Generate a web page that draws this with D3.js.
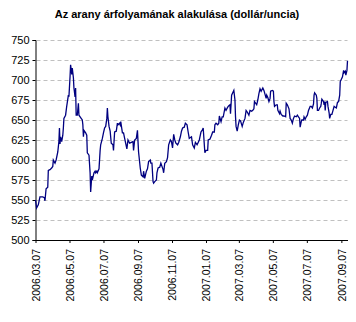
<!DOCTYPE html>
<html>
<head>
<meta charset="utf-8">
<script src="https://cdn.jsdelivr.net/npm/d3@7"></script>
<style>
  html, body { margin: 0; padding: 0; background: #fff; }
  svg { display: block; font-family: "Liberation Sans", Arial, sans-serif; }
</style>
</head>
<body>
<svg id="chart" width="356" height="322"></svg>
<script>
// Gold price, USD per troy ounce
const chartTitle = "Az arany árfolyamának alakulása (dollár/uncia)";

const dates = [
  "2006-03-07","2006-03-09","2006-03-12","2006-03-15","2006-03-20","2006-03-23","2006-03-24","2006-03-26","2006-03-29","2006-03-30",
  "2006-04-02","2006-04-05","2006-04-07","2006-04-08","2006-04-11","2006-04-13","2006-04-16","2006-04-18","2006-04-19","2006-04-20",
  "2006-04-21","2006-04-23","2006-04-25","2006-04-26","2006-04-27","2006-04-30",
  "2006-05-02","2006-05-05","2006-05-06","2006-05-08","2006-05-09","2006-05-11","2006-05-12","2006-05-14","2006-05-15","2006-05-17",
  "2006-05-18","2006-05-19","2006-05-21","2006-05-23","2006-05-24","2006-05-27","2006-05-30","2006-05-31",
  "2006-06-01","2006-06-02","2006-06-05","2006-06-07","2006-06-08","2006-06-11","2006-06-13","2006-06-14","2006-06-16","2006-06-17",
  "2006-06-19","2006-06-20","2006-06-22","2006-06-23","2006-06-25","2006-06-26","2006-06-29",
  "2006-07-01","2006-07-02","2006-07-05","2006-07-07","2006-07-09","2006-07-11","2006-07-13","2006-07-14","2006-07-15","2006-07-17",
  "2006-07-19","2006-07-21","2006-07-24","2006-07-25","2006-07-27","2006-07-30",
  "2006-08-01","2006-08-02","2006-08-05","2006-08-06","2006-08-07","2006-08-10","2006-08-12","2006-08-14","2006-08-18","2006-08-20",
  "2006-08-23","2006-08-26","2006-08-29","2006-08-30",
  "2006-09-01","2006-09-04","2006-09-06","2006-09-07","2006-09-08","2006-09-11","2006-09-13","2006-09-16","2006-09-17","2006-09-19",
  "2006-09-22","2006-09-24","2006-09-26","2006-09-29","2006-09-30",
  "2006-10-02","2006-10-04","2006-10-05","2006-10-07","2006-10-10","2006-10-11","2006-10-13","2006-10-16","2006-10-18","2006-10-20",
  "2006-10-22","2006-10-23","2006-10-25","2006-10-28","2006-10-30",
  "2006-11-01","2006-11-04","2006-11-06","2006-11-08","2006-11-10","2006-11-12","2006-11-14","2006-11-17","2006-11-19","2006-11-22",
  "2006-11-24","2006-11-26","2006-11-29",
  "2006-12-01","2006-12-04","2006-12-06","2006-12-08","2006-12-12","2006-12-14","2006-12-17","2006-12-19","2006-12-22","2006-12-24",
  "2006-12-26","2006-12-29","2006-12-31",
  "2007-01-02","2007-01-04","2007-01-05","2007-01-07","2007-01-10","2007-01-11","2007-01-14","2007-01-17","2007-01-19","2007-01-22",
  "2007-01-23","2007-01-25","2007-01-28","2007-01-30","2007-01-31",
  "2007-02-03","2007-02-05","2007-02-07","2007-02-10","2007-02-12","2007-02-15","2007-02-17","2007-02-19","2007-02-20","2007-02-22",
  "2007-02-24","2007-02-26","2007-02-28",
  "2007-03-01","2007-03-02","2007-03-04","2007-03-06","2007-03-08","2007-03-10","2007-03-13","2007-03-15","2007-03-18","2007-03-20",
  "2007-03-22","2007-03-25","2007-03-27","2007-03-30",
  "2007-04-01","2007-04-03","2007-04-04","2007-04-06","2007-04-08","2007-04-10","2007-04-12","2007-04-14","2007-04-16","2007-04-19",
  "2007-04-21","2007-04-23","2007-04-25","2007-04-26","2007-04-28","2007-04-30",
  "2007-05-02","2007-05-03","2007-05-06","2007-05-08","2007-05-09","2007-05-10","2007-05-13","2007-05-15","2007-05-16","2007-05-19",
  "2007-05-20","2007-05-22","2007-05-25","2007-05-27","2007-05-30","2007-05-31",
  "2007-06-02","2007-06-05","2007-06-07","2007-06-09","2007-06-11","2007-06-13","2007-06-15","2007-06-18","2007-06-20","2007-06-22",
  "2007-06-24","2007-06-25","2007-06-27","2007-06-28",
  "2007-07-01","2007-07-02","2007-07-04","2007-07-06","2007-07-08","2007-07-10","2007-07-13","2007-07-15","2007-07-17","2007-07-19",
  "2007-07-20","2007-07-21","2007-07-24","2007-07-25","2007-07-26","2007-07-28","2007-07-30",
  "2007-08-01","2007-08-02","2007-08-03","2007-08-06","2007-08-07","2007-08-08","2007-08-09","2007-08-10","2007-08-13","2007-08-14",
  "2007-08-16","2007-08-17","2007-08-19","2007-08-21","2007-08-23","2007-08-25","2007-08-27","2007-08-29","2007-08-31",
  "2007-09-02","2007-09-04","2007-09-05","2007-09-07","2007-09-09","2007-09-11","2007-09-12","2007-09-14","2007-09-15","2007-09-17",
  "2007-09-18"
];

const prices = [
  550,540,544,554,554,553,549,564,566,587,
  588,590,592,600,596,600,610,623,640,620,
  629,623,631,640,652,656,
  667,681,679,704,719,707,715,703,690,679,
  690,656,656,671,656,653,650,644,
  629,637,634,631,609,606,584,560,580,575,
  581,584,586,584,586,584,589,
  612,619,627,634,640,642,652,665,654,642,
  636,621,619,612,635,636,
  646,644,646,644,648,634,634,627,614,625,
  621,622,623,612,
  625,627,637,623,610,590,581,579,586,577,
  586,589,598,600,596,
  596,573,571,573,575,584,590,591,596,592,
  588,584,596,598,603,
  619,625,623,615,632,625,621,619,622,629,
  636,640,641,
  646,644,635,627,629,619,615,622,619,622,
  625,635,637,
  640,619,609,612,612,625,626,631,635,635,
  644,646,644,646,655,
  648,654,654,665,662,666,668,669,658,681,
  684,687,675,
  654,642,636,644,650,649,642,647,652,662,
  660,656,662,661,
  662,664,673,671,669,675,683,689,686,690,
  687,682,677,681,678,673,
  677,686,687,686,673,667,669,669,662,658,
  661,657,655,655,654,671,
  669,664,652,650,646,652,655,654,656,654,
  652,641,648,650,
  650,654,651,654,656,662,667,667,665,670,
  681,684,681,677,662,662,665,
  667,671,676,673,669,673,662,672,673,667,
  659,652,657,657,662,667,666,665,672,
  673,681,698,701,704,712,709,711,706,712,
  724
];

const yTicks = [500, 525, 550, 575, 600, 625, 650, 675, 700, 725, 750];
const xTickLabels = [
  "2006.03.07","2006.05.07","2006.07.07","2006.09.07","2006.11.07",
  "2007.01.07","2007.03.07","2007.05.07","2007.07.07","2007.09.07"
];

const parseDay = d3.timeParse("%Y-%m-%d");
const parseLabel = d3.timeParse("%Y.%m.%d");
const fmtLabel = d3.timeFormat("%Y.%m.%d");

const series = dates.map((d, i) => ({ date: parseDay(d), value: prices[i] }));

const svg = d3.select("#chart");
const plot = { left: 35.5, right: 347.5, top: 40, bottom: 240 };

const x = d3.scaleTime()
  .domain([parseDay("2006-03-07"), parseDay("2007-09-18")])
  .range([plot.left, plot.right]);
const y = d3.scaleLinear()
  .domain([500, 750])
  .range([plot.bottom, plot.top]);

// title
svg.append("text")
  .attr("x", 177)
  .attr("y", 18)
  .attr("text-anchor", "middle")
  .attr("font-size", "11px")
  .attr("font-weight", "bold")
  .attr("fill", "#000")
  .text(chartTitle);

// dashed horizontal gridlines
svg.append("g")
  .selectAll("line")
  .data(yTicks.filter(v => v > 500))
  .join("line")
  .attr("x1", plot.left + 1)
  .attr("x2", plot.right)
  .attr("y1", v => Math.round(y(v)) + 0.5)
  .attr("y2", v => Math.round(y(v)) + 0.5)
  .attr("stroke", "#c0c0c0")
  .attr("stroke-width", 1)
  .attr("stroke-dasharray", "4,3");

// y axis
const yAxis = svg.append("g")
  .attr("transform", `translate(${plot.left},0)`)
  .call(d3.axisLeft(y).tickValues(yTicks).tickSize(3).tickPadding(3).tickFormat(d3.format("d")));
yAxis.select(".domain").attr("stroke", "#000");
yAxis.selectAll(".tick line").attr("stroke", "#000");
yAxis.selectAll(".tick text")
  .attr("font-size", "11px")
  .attr("font-family", "'Liberation Sans', Arial, sans-serif")
  .attr("fill", "#000");

// x axis with rotated date labels
const xAxis = svg.append("g")
  .attr("transform", `translate(0,${plot.bottom})`)
  .call(d3.axisBottom(x)
    .tickValues(xTickLabels.map(parseLabel))
    .tickSize(3)
    .tickSizeOuter(0)
    .tickFormat(fmtLabel));
xAxis.select(".domain").attr("stroke", "#000");
xAxis.selectAll(".tick line").attr("stroke", "#000");
xAxis.selectAll(".tick text")
  .attr("font-size", "10.5px")
  .attr("font-family", "'Liberation Sans', Arial, sans-serif")
  .attr("fill", "#000")
  .attr("text-anchor", "end")
  .attr("dy", "0.35em")
  .attr("transform", "translate(0,9) rotate(-90)")
  .attr("x", 0)
  .attr("y", 0);

// price line
const line = d3.line()
  .x(d => x(d.date))
  .y(d => y(d.value));

svg.append("path")
  .datum(series)
  .attr("fill", "none")
  .attr("stroke", "#000080")
  .attr("stroke-width", 1.3)
  .attr("stroke-linejoin", "miter")
  .attr("d", line);
</script>
</body>
</html>
